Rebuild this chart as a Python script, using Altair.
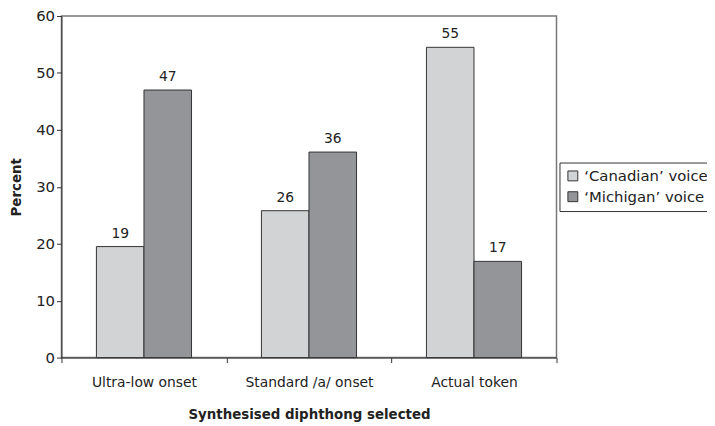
import altair as alt
import pandas as pd

categories = ["Ultra-low onset", "Standard /a/ onset", "Actual token"]
voices = ["\u2018Canadian\u2019 voice", "\u2018Michigan\u2019 voice"]
canadian = [19.5, 25.8, 54.5]
michigan = [47.0, 36.1, 16.9]
canadian_labels = ["19", "26", "55"]
michigan_labels = ["47", "36", "17"]
y_ticks = [0, 10, 20, 30, 40, 50, 60]
colors = ["#d1d3d4", "#939598"]

rows = []
for i, c in enumerate(categories):
    rows.append({"category": c, "voice": voices[0], "value": canadian[i], "label": canadian_labels[i]})
    rows.append({"category": c, "voice": voices[1], "value": michigan[i], "label": michigan_labels[i]})
df = pd.DataFrame(rows)

FONT = "DejaVu Sans"

x = alt.X(
    "category:N",
    sort=categories,
    scale=alt.Scale(paddingInner=0, paddingOuter=0),
    axis=alt.Axis(
        title="Synthesised diphthong selected",
        labelAngle=0,
        tickBand="extent",
        labelFontSize=14,
        labelPadding=13,
        titlePadding=19,
    ),
)
xo = alt.XOffset("voice:N", sort=voices, scale=alt.Scale(paddingInner=0, paddingOuter=0.735))
y = alt.Y(
    "value:Q",
    scale=alt.Scale(domain=[0, 60], nice=False),
    axis=alt.Axis(
        title="Percent",
        values=y_ticks,
        grid=False,
        labelFontSize=15,
        labelPadding=2,
        titlePadding=12,
    ),
)

bars = alt.Chart(df).mark_bar(stroke="#333333", strokeWidth=1).encode(
    x=x,
    xOffset=xo,
    y=y,
    color=alt.Color(
        "voice:N",
        sort=voices,
        scale=alt.Scale(domain=voices, range=colors),
        legend=alt.Legend(
            title=None,
            orient="none",
            legendX=503,
            legendY=148,
            strokeColor="#333333",
            padding=6,
            symbolType="square",
            symbolSize=100,
            symbolStrokeColor="#333333",
            symbolStrokeWidth=1,
            symbolOpacity=1,
            labelFont=FONT,
            labelFontSize=15,
            labelColor="#222222",
            labelOffset=4,
            rowPadding=5,
            labelLimit=300,
        ),
    ),
)

text = alt.Chart(df).mark_text(
    baseline="alphabetic", dy=-9, fontSize=14, font=FONT, color="#222222"
).encode(x=x, xOffset=xo, y=y, text="label:N")

chart = (
    (bars + text)
    .properties(
        width=500,
        height=345,
        autosize=alt.AutoSizeParams(type="none"),
        padding={"left": 54, "top": 6, "right": 152, "bottom": 66},
    )
    .configure_view(stroke="#777777", strokeWidth=1.5)
    .configure_axis(
        domainColor="#333333",
        tickColor="#333333",
        tickSize=5,
        labelFont=FONT,
        labelColor="#222222",
        titleFont=FONT,
        titleFontWeight="bold",
        titleFontSize=13.5,
        titleColor="#222222",
    )
)

chart.save("out.html", embed_options={"renderer": "svg", "actions": False})
